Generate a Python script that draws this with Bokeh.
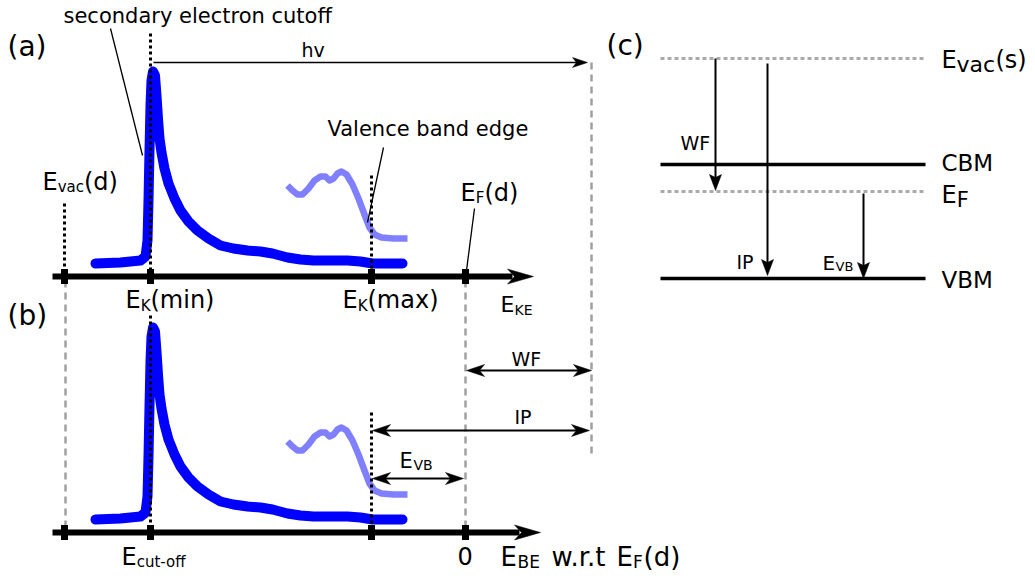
from bokeh.plotting import figure
from bokeh.models import Range1d, ColumnDataSource
from bokeh.embed import file_html
from bokeh.resources import INLINE

# ---- data -------------------------------------------------------------
# secondary-electron spectrum: energy position and intensity above baseline
secondary_ke = [95, 120, 140, 145, 147, 148, 149, 150, 151, 152.5,
                154.5, 156, 157.5, 159, 161, 164, 168, 174, 180, 188,
                197, 208, 220, 233, 247, 260, 272, 287, 300, 313,
                330, 347, 360, 372, 385, 402]
secondary_counts = [13, 14, 16, 20, 36, 76, 126, 171, 196, 205,
                    201, 181, 158, 138, 124, 108, 93, 78, 66, 55,
                    46, 38, 31, 28, 26, 25, 23, 19, 17, 16,
                    16, 16, 15, 13, 13, 13]

# valence-band region (magnified)
valence_ke = [287, 292, 297, 302, 308, 314, 320, 325, 329, 333,
              337, 341, 346, 352, 358, 364, 369, 374, 381, 393, 407]
valence_counts = [91, 86, 82, 82, 88, 96, 100, 100, 96, 98,
                  103, 105, 102, 92, 78, 62, 49, 42, 39, 38, 38]

# marked energies on the horizontal axes
e_vac_d = 64
e_k_min = 150
e_k_max = 371
e_f_d = 465
e_hv_end = 591

# energy-level diagram (c): vertical positions
lvl_vac = 58
lvl_cbm = 164
lvl_ef = 191
lvl_vbm = 278
lvl_x0, lvl_x1 = 660, 925

# baselines of the two spectrum panels
base_a = 276
base_b = 532

FONT = "DejaVu Sans"
BLUE = "#0000ff"
LIGHT = "#8080ff"
GREY = "#a0a0a0"

p = figure(width=1035, height=581, x_range=Range1d(0, 1035), y_range=Range1d(581, 0),
           output_backend="svg", toolbar_location=None, min_border=0)
p.axis.visible = False
p.grid.visible = False
p.outline_line_color = None
p.background_fill_color = "white"


def head(tx, ty, dx, dy, length, half, notch):
    nx, ny = -dy, dx
    bx, by = tx - length * dx, ty - length * dy
    mx, my = tx - (length - notch) * dx, ty - (length - notch) * dy
    return ([tx, bx + half * nx, mx, bx - half * nx],
            [ty, by + half * ny, my, by - half * ny])


heads_x, heads_y = [], []


def add_head(*a):
    hx, hy = head(*a)
    heads_x.append(hx)
    heads_y.append(hy)


# grey dashed guide lines
p.multi_line(xs=[[e_vac_d + 1, e_vac_d + 1], [e_f_d, e_f_d], [e_hv_end, e_hv_end]],
             ys=[[base_a + 4, base_b - 4], [base_a + 4, base_b - 4], [62, 458]],
             line_color=GREY, line_width=2.5, line_dash="7 5")

# spectra
for base in (base_a, base_b):
    p.line(secondary_ke, [base - c for c in secondary_counts],
           line_color=BLUE, line_width=10, line_join="round", line_cap="round")
    p.line(valence_ke, [base - c for c in valence_counts],
           line_color=LIGHT, line_width=6.5, line_join="round", line_cap="butt")

# black dotted markers
p.multi_line(xs=[[e_vac_d, e_vac_d], [e_k_min, e_k_min], [e_k_max, e_k_max],
                 [e_k_min, e_k_min], [e_k_max, e_k_max]],
             ys=[[203, base_a], [33, base_a], [175, base_a],
                 [315, base_b], [412, base_b]],
             line_color="black", line_width=3, line_dash="3 3")

# axes with arrows
p.segment(x0=[52, 52], y0=[base_a, base_b], x1=[512, 519], y1=[base_a, base_b],
          line_color="black", line_width=6)
add_head(533, base_a, 1, 0, 26, 7.5, 7)
add_head(540, base_b, 1, 0, 26, 7.5, 7)

# tick blocks
tick_x = [e_vac_d, e_k_min, e_k_max, e_f_d]
p.rect(x=tick_x * 2, y=[base_a] * 4 + [base_b] * 4, width=7, height=15,
       fill_color="black", line_color=None)

# photon energy arrow
p.segment(x0=[153], y0=[62], x1=[578], y1=[62], line_color="black", line_width=1.6)
add_head(587, 62, 1, 0, 15, 5, 4)

# double arrows in panel (b)
for x0, x1, y in [(e_f_d + 1, e_hv_end, 370), (e_k_max + 1, 589, 430), (e_k_max + 1, 463, 478)]:
    p.segment(x0=[x0 + 8], y0=[y], x1=[x1 - 8], y1=[y], line_color="black", line_width=1.8)
    add_head(x0, y, -1, 0, 18, 6, 5)
    add_head(x1, y, 1, 0, 18, 6, 5)

# leader lines
p.segment(x0=[110, 383, 474], y0=[28, 147, 208], x1=[142, 367, 466], y1=[155, 222, 270],
          line_color="black", line_width=1.3)

# panel (c): energy levels
p.segment(x0=[lvl_x0, lvl_x0], y0=[lvl_vac, lvl_ef], x1=[lvl_x1, lvl_x1], y1=[lvl_vac, lvl_ef],
          line_color="#aaaaaa", line_width=3, line_dash="4 3")
p.segment(x0=[lvl_x0, lvl_x0], y0=[lvl_cbm, lvl_vbm], x1=[lvl_x1, lvl_x1], y1=[lvl_cbm, lvl_vbm],
          line_color="black", line_width=3.5)

for x, y0, y1 in [(715, lvl_vac, lvl_ef - 1), (767, lvl_vac + 5, lvl_vbm - 3), (863, lvl_ef + 2, lvl_vbm)]:
    p.segment(x0=[x], y0=[y0], x1=[x], y1=[y1 - 10], line_color="black", line_width=2)
    add_head(x, y1, 0, 1, 16, 6, 3)

p.patches(xs=heads_x, ys=heads_y, fill_color="black", line_color="black", line_width=0.5)

# labels: (x, baseline y, text, font size)
runs = [
    (63, 21, "secondary electron cutoff", 21),
    (7, 52, "(a)", 28),
    (301, 55, "hv", 19),
    (42, 187, "E", 24), (57.2, 192, "vac", 15), (83.5, 187, "(d)", 24),
    (125, 305, "E", 24), (140.2, 311, "K", 15), (150, 305, "(min)", 24),
    (342, 305, "E", 24), (357.2, 311, "K", 15), (367, 305, "(max)", 24),
    (500, 310, "E", 22), (514, 315, "KE", 14),
    (327, 134, "Valence band edge", 21),
    (460, 198, "E", 24), (475.2, 203, "F", 15), (484, 198, "(d)", 24),
    (7, 321, "(b)", 28),
    (121, 562, "E", 24), (136.2, 567, "cut-off", 15),
    (457, 561, "0", 24),
    (500, 562, "E", 26), (517, 567, "BE", 17), (551, 562, "w.r.t", 26),
    (616, 562, "E", 26), (632.5, 567, "F", 17), (643, 562, "(d)", 26),
    (511, 364, "WF", 19),
    (514, 422, "IP", 19),
    (399, 466, "E", 21), (413, 470, "VB", 14),
    (606, 51, "(c)", 28),
    (941, 65, "E", 24), (956, 70, "vac", 22), (995, 65, "(s)", 24),
    (941, 168, "CBM", 23),
    (941, 200, "E", 24), (956.2, 205, "F", 21),
    (941, 285, "VBM", 23),
    (680, 148, "WF", 19),
    (736, 267, "IP", 19),
    (822, 268, "E", 20), (835, 272, "VB", 13),
]
TEXT_SHIFT = -6  # renderer places the alphabetic baseline a little low
src = ColumnDataSource(dict(
    x=[r[0] for r in runs], y=[r[1] + TEXT_SHIFT for r in runs],
    text=[r[2] for r in runs], size=[f"{r[3]}px" for r in runs]))
p.text(x="x", y="y", text="text", source=src, text_font_size="size",
       text_font={"value": FONT}, text_color="black",
       text_align="left", text_baseline="alphabetic")

open("out.html", "w").write(file_html(p, INLINE))
